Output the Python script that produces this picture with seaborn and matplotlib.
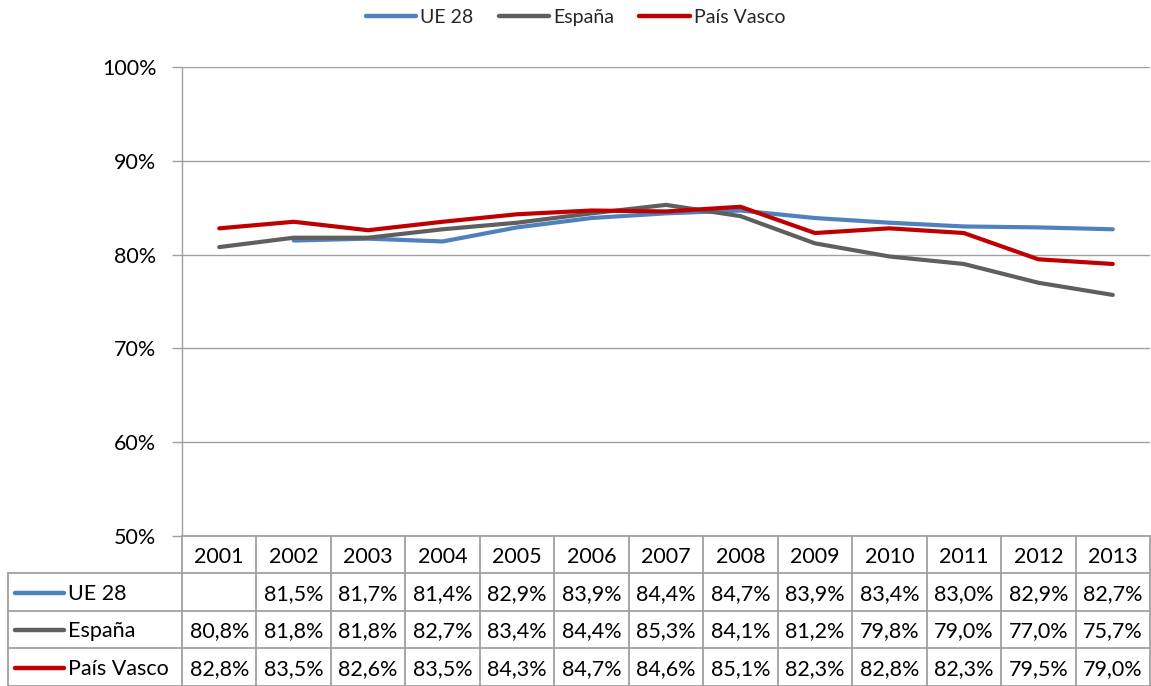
import numpy as np
import pandas as pd
import matplotlib
matplotlib.use("Agg")
import matplotlib.pyplot as plt
from matplotlib.lines import Line2D
import seaborn as sns

years = ["2001", "2002", "2003", "2004", "2005", "2006", "2007",
         "2008", "2009", "2010", "2011", "2012", "2013"]
ue28 = [np.nan, 81.5, 81.7, 81.4, 82.9, 83.9, 84.4, 84.7, 83.9, 83.4, 83.0, 82.9, 82.7]
espana = [80.8, 81.8, 81.8, 82.7, 83.4, 84.4, 85.3, 84.1, 81.2, 79.8, 79.0, 77.0, 75.7]
pais_vasco = [82.8, 83.5, 82.6, 83.5, 84.3, 84.7, 84.6, 85.1, 82.3, 82.8, 82.3, 79.5, 79.0]
series_names = ["UE 28", "España", "País Vasco"]
series_values = [ue28, espana, pais_vasco]
colors = ["#4F81BD", "#5F5F5F", "#C00000"]
y_ticks = [50, 60, 70, 80, 90, 100]

sns.set_theme(style="white")
plt.rcParams["font.family"] = ["Lato", "DejaVu Sans"]

W, H = 1151, 686
fig = plt.figure(figsize=(W / 100, H / 100), dpi=100)

# plot area in pixel coordinates
px_left, px_right, px_top, px_bottom = 182, 1150, 67, 536
ax = fig.add_axes([px_left / W, 1 - px_bottom / H,
                   (px_right - px_left) / W, (px_bottom - px_top) / H])

rows = []
for name, vals in zip(series_names, series_values):
    for i, v in enumerate(vals):
        rows.append({"idx": i, "value": v, "serie": name})
df = pd.DataFrame(rows).dropna()

sns.lineplot(data=df, x="idx", y="value", hue="serie", hue_order=series_names,
             palette=colors, linewidth=3.0, ax=ax, legend=False, sort=True)

ax.set_xlim(-0.5, len(years) - 0.5)
ax.set_ylim(50, 100)
ax.set_yticks(y_ticks)
ax.set_yticklabels([f"{t}%" for t in y_ticks], fontsize=15.5, color="#000000")
ax.set_xticks([])
ax.set_xlabel("")
ax.set_ylabel("")
grid_c = "#A0A0A0"
for t in y_ticks:
    ax.axhline(t, color=grid_c, linewidth=1.0, zorder=0)
for side in ["top", "right", "bottom"]:
    ax.spines[side].set_visible(False)
ax.spines["left"].set_color(grid_c)
ax.spines["left"].set_linewidth(1.0)
ax.tick_params(axis="y", which="major", left=True, length=7, width=1.0,
               color=grid_c, pad=11.5)

# data table beneath the chart
col_w = (px_right - px_left) / len(years)
label_w = (px_left - 8) / col_w
tab_top, tab_bottom = 536, 685.5
tax = fig.add_axes([8 / W, 1 - tab_bottom / H,
                    (px_right - 8) / W, (tab_bottom - tab_top) / H])
tax.set_xlim(-0.5 - label_w, len(years) - 0.5)
tax.set_ylim(4, 0)
tax.axis("off")

border_c = "#A0A0A0"
lw = 1.3
n = len(years)
# vertical borders of year columns (full height)
for k in range(n + 1):
    tax.plot([k - 0.5, k - 0.5], [0, 4], color=border_c, lw=lw, clip_on=False)
# left border of the label column
tax.plot([-0.5 - label_w] * 2, [1, 4], color=border_c, lw=lw, clip_on=False)
# horizontal borders
tax.plot([-0.5, n - 0.5], [0, 0], color=border_c, lw=lw, clip_on=False)
for r in range(1, 5):
    tax.plot([-0.5 - label_w, n - 0.5], [r, r], color=border_c, lw=lw, clip_on=False)

fs = 15.5
for k, yr in enumerate(years):
    tax.text(k, 0.55, yr, ha="center", va="center", fontsize=fs, color="#000000")
for r, (name, vals, c) in enumerate(zip(series_names, series_values, colors), start=1):
    x0 = -0.5 - label_w
    tax.plot([x0 + 0.09, x0 + 0.75], [r + 0.52, r + 0.52], color=c, lw=3.2,
             solid_capstyle="round")
    tax.text(x0 + 0.8, r + 0.55, name, ha="left", va="center", fontsize=fs,
             color="#000000")
    for k, v in enumerate(vals):
        if np.isnan(v):
            continue
        label = f"{v:.1f}%".replace(".", ",")
        tax.text(k, r + 0.55, label, ha="center", va="center", fontsize=fs,
                 color="#000000")

handles = [Line2D([0], [0], color=c, lw=3.2, solid_capstyle="round") for c in colors]
fig.legend(handles, series_names, loc="upper center", bbox_to_anchor=(0.5, 1.012),
           ncol=3, frameon=False, fontsize=14, handlelength=2.6, handletextpad=0.2,
           columnspacing=1.3)

fig.savefig("out.png", dpi=100)
